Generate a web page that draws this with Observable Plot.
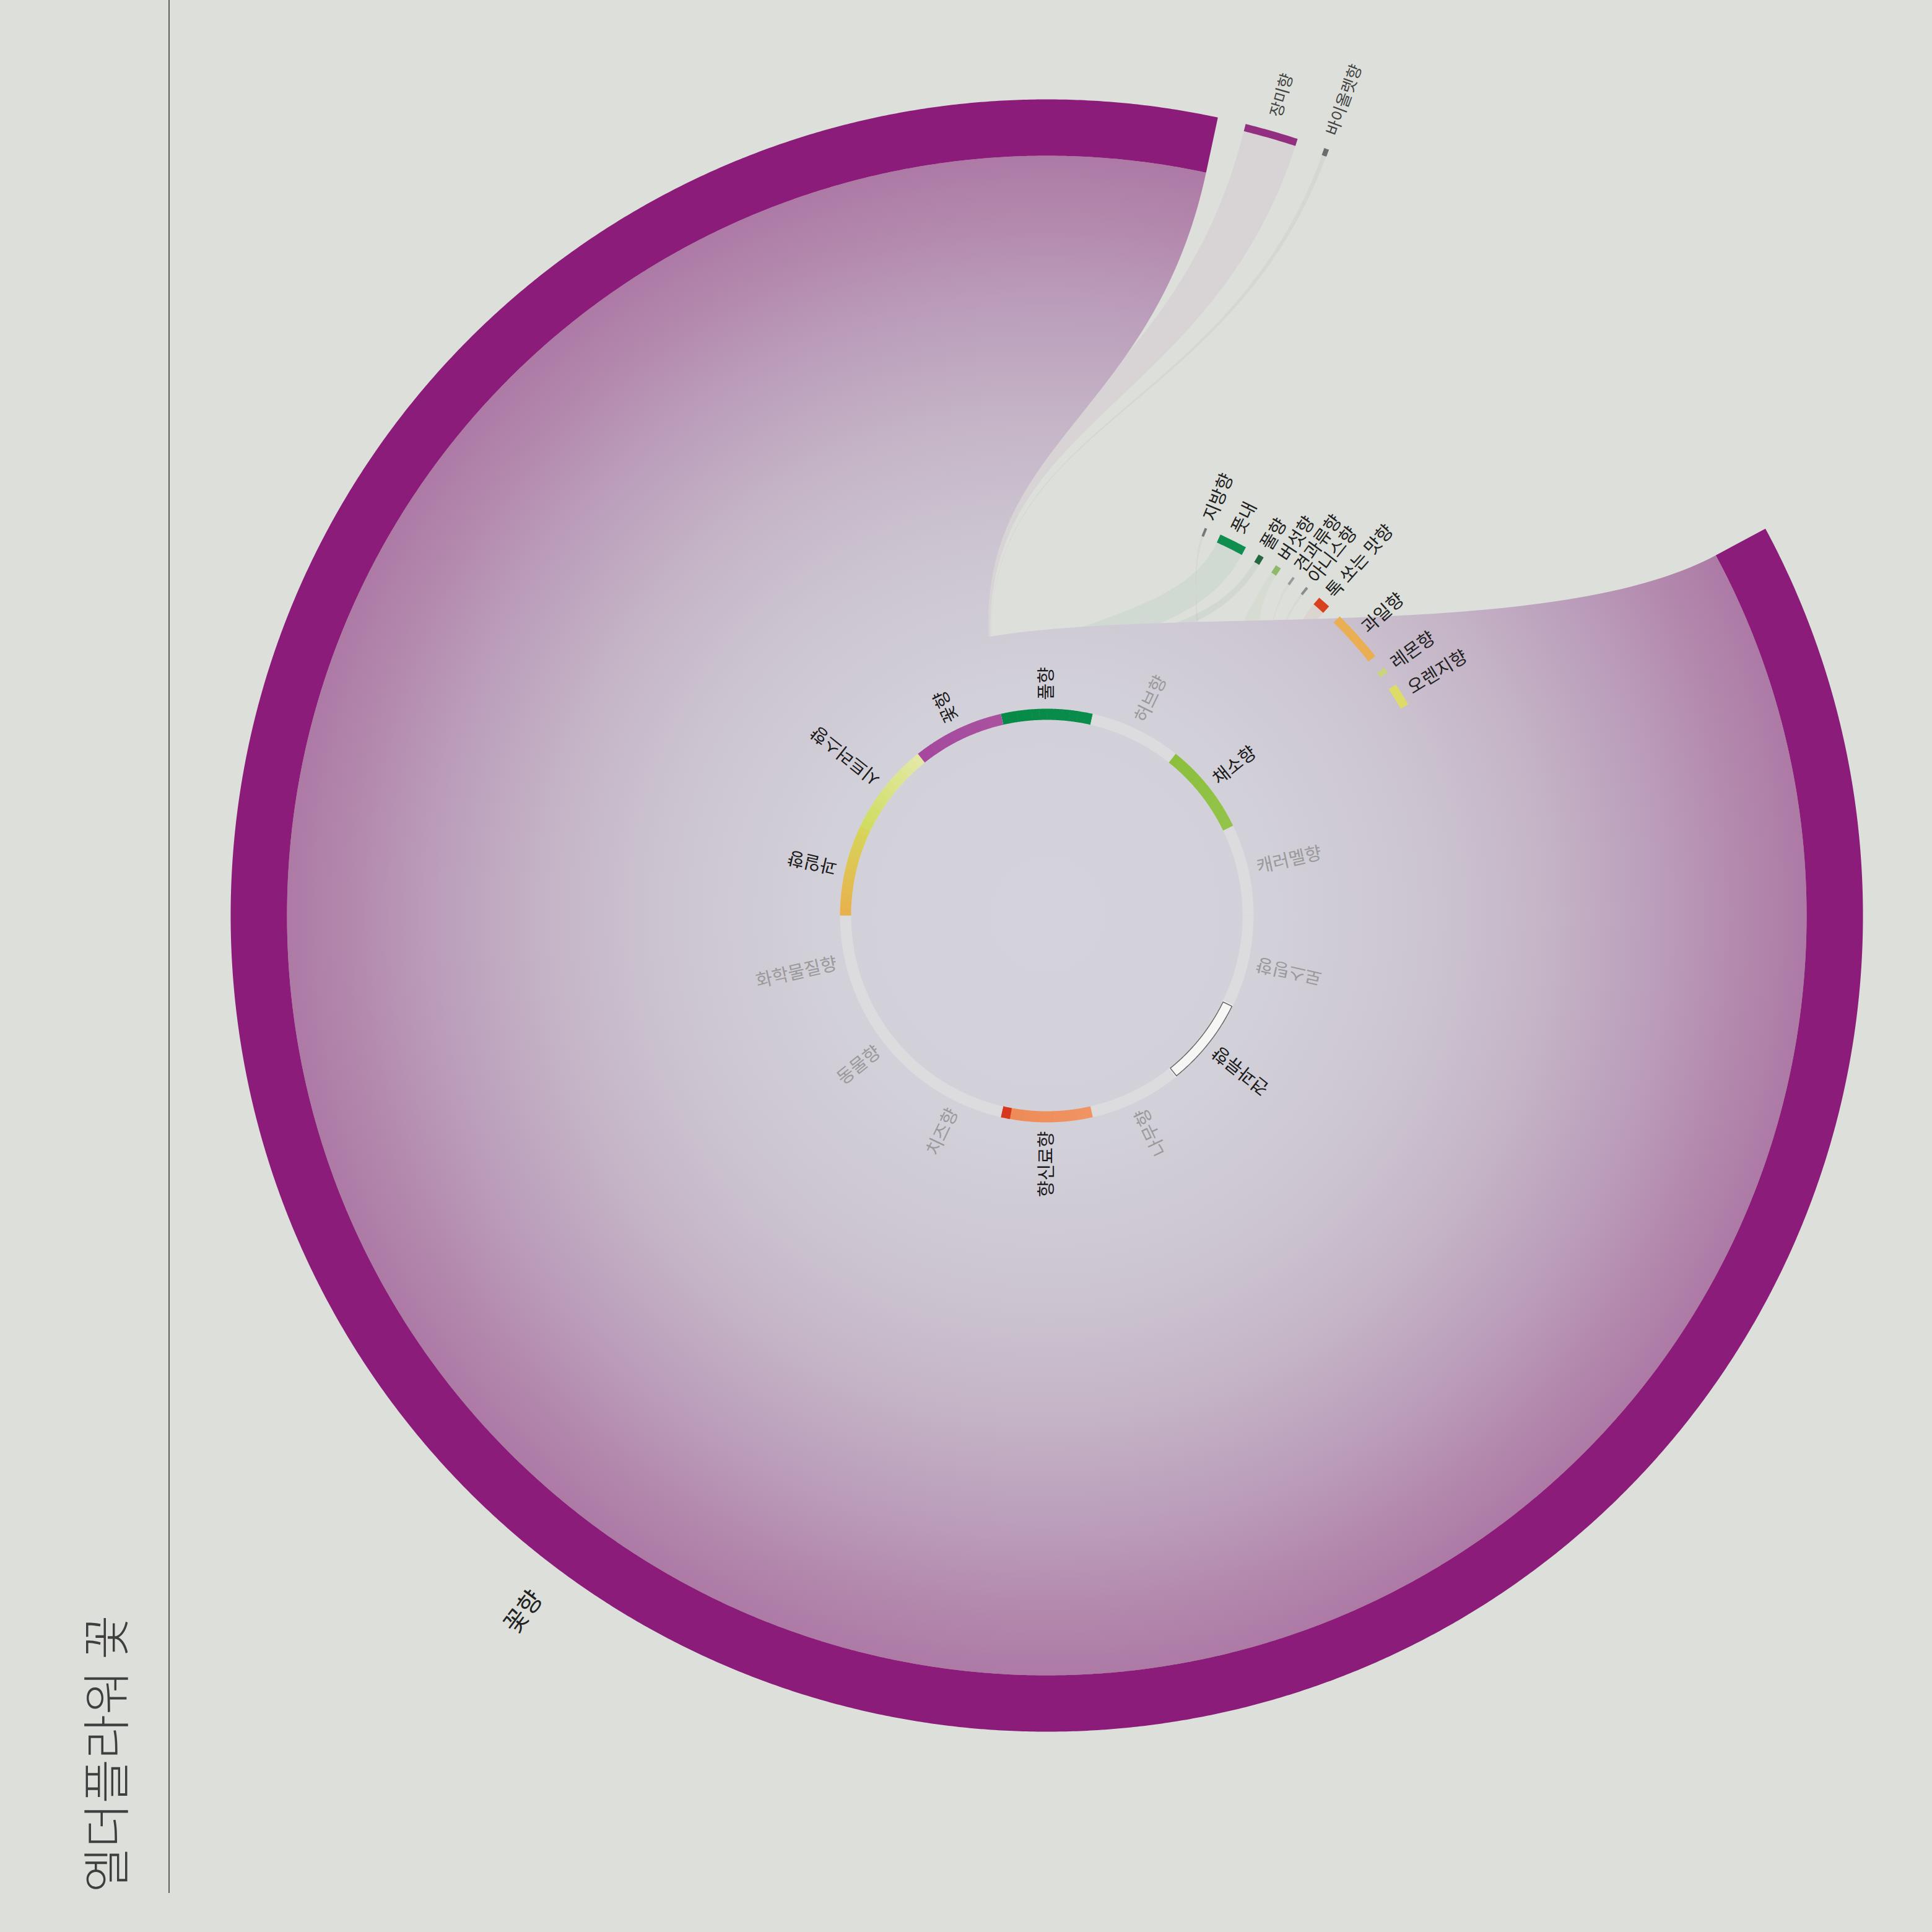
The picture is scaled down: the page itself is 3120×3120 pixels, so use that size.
<!DOCTYPE html>
<html><head><meta charset="utf-8">
<script src="https://cdn.jsdelivr.net/npm/d3@7"></script>
<script src="https://cdn.jsdelivr.net/npm/@observablehq/plot@0.6"></script>
<style>
html,body{margin:0;padding:0;background:#dcdfda;}
#page{position:relative;width:3120px;height:3120px;overflow:hidden;background:#dcdfda;font-family:"Noto Sans CJK KR","Noto Sans",sans-serif;}
#chart{position:absolute;left:0;top:0;}
#rule{position:absolute;left:272px;top:0;width:2px;height:3057px;background:#5e5e5e;}
#title{position:absolute;left:124px;top:3056px;transform-origin:0 0;transform:rotate(-90deg);font-size:78px;line-height:86px;color:#3e3e3e;font-weight:300;white-space:nowrap;}
</style></head><body>
<div id="page"><div id="chart"></div><div id="rule"></div><div id="title"></div></div>
<script>
// ---------------- DATA ----------------
const titleText = "엘더플라워 꽃";
const categories = ["풀향","허브향","채소향","캐러멜향","로스팅향","견과류향","나무향","향신료향","치즈향","동물향","화학물질향","과일향","시트러스향","꽃향"];
const categoryColorStart = ["#068a47","#dcdcde","#8bbf3c","#dcdcde","#dcdcde","#f6f6f4","#dcdcde","#ef9462","#dcdcde","#dcdcde","#dcdcde","#e8b04c","#cfdc5e","#a5489e"];
const categoryColorEnd   = ["#0a8d4c","#dcdcde","#93c44a","#dcdcde","#dcdcde","#f6f6f4","#dcdcde","#ee8a56","#dcdcde","#dcdcde","#dcdcde","#d6d65a","#e4e8a8","#a9519f"];
const categoryAccent     = [null,null,null,null,null,null,null,"#d6381d",null,null,null,null,null,null];
const descriptors = ["꽃향","장미향","바이올렛향","지방향","풋내","풀향","버섯향","견과류향","아니스향","톡 쏘는 맛향","과일향","레몬향","오렌지향"];
const descriptorValues = [310.4, 3.8, 0.3, 0.3, 3.9, 0.8, 0.8, 0.3, 0.3, 1.8, 7.3, 0.8, 3.2];
const descriptorParents = ["꽃향","꽃향","꽃향","견과류향","풀향","풀향","채소향","견과류향","향신료향","향신료향","과일향","시트러스향","시트러스향"];
const descriptorColors = ["#8b1c79","#922f80","#6c6c6c","#777777","#0f8f4f","#23683f","#8fb86b","#9a9a9a","#8a8a8a","#d8401f","#eaaf52","#c9d57c","#dcdc66"];

// ---------------- LAYOUT ----------------
document.getElementById("title").textContent = titleText;
const W = 3120, H = 3120, CX = 1690, CY = 1478;
const ringR0 = 316, ringR1 = 334, innerLabelR = 348;
const bandR0 = 1227, bandR1 = 1318;
const rimR0 = 1306, rimR1 = 1318;
const barR0 = 662, barR1 = 676;
const startAngle = 61.7;
const grayRing = "#dcdcde";

const D2R = Math.PI / 180;
const pt = (a, r) => ({x: r * Math.sin(a * D2R), y: -r * Math.cos(a * D2R)});
function arcPts(a0, a1, r) {
  const n = Math.max(2, Math.ceil(Math.abs(a1 - a0) / 0.25) + 1);
  return d3.range(n).map(i => pt(a0 + (a1 - a0) * i / (n - 1), r));
}
const annulus = (a0, a1, r0, r1) => arcPts(a0, a1, r1).concat(arcPts(a1, a0, r0));
function bez(p0, p1, p2, p3, n = 120) {
  return d3.range(n + 1).map(i => {
    const t = i / n, u = 1 - t;
    return {x: u*u*u*p0.x + 3*u*u*t*p1.x + 3*u*t*t*p2.x + t*t*t*p3.x,
            y: u*u*u*p0.y + 3*u*u*t*p1.y + 3*u*t*t*p2.y + t*t*t*p3.y};
  });
}
function ribbon(s0, s1, rs, t0, t1, rt) {
  const k = (rt - rs) * 0.5;
  return [...arcPts(s0, s1, rs),
          ...bez(pt(s1, rs), pt(s1, rs + k), pt(t1, rt - k), pt(t1, rt)),
          ...arcPts(t1, t0, rt),
          ...bez(pt(t0, rt), pt(t0, rt - k), pt(s0, rs + k), pt(s0, rs))];
}
const tag = (pts, id, props) => pts.map(p => ({...p, id, ...props}));

// inner categories
const catSpan = 360 / categories.length;
const cats = categories.map((name, i) => ({
  name, i, a0: i * catSpan - catSpan / 2, a1: i * catSpan + catSpan / 2, mid: i * catSpan,
  active: descriptorParents.includes(name)
}));

// outer descriptors
const total = d3.sum(descriptorValues);
const pad = (360 - total) / descriptors.length;
let acc = startAngle;
const outer = descriptors.map((name, i) => {
  const a0 = acc, a1 = acc + descriptorValues[i];
  acc = a1 + pad;
  const parent = descriptorParents[i];
  const tier = parent === name && parent === "꽃향" ? "band" : (parent === "꽃향" ? "rim" : "bar");
  const r0 = tier === "band" ? bandR0 : tier === "rim" ? rimR0 : barR0;
  const r1 = tier === "band" ? bandR1 : tier === "rim" ? rimR1 : barR1;
  return {name, i, a0, a1, mid: (a0 + a1) / 2, parent, tier, r0, r1, color: descriptorColors[i], value: descriptorValues[i]};
});

// links (source sub-allocation within each category)
const links = [];
cats.forEach(c => {
  const kids = outer.filter(d => d.parent === c.name);
  const sum = d3.sum(kids, d => d.value);
  let s = c.a0;
  kids.forEach(d => {
    const s1 = s + (c.a1 - c.a0) * d.value / sum;
    links.push({src: c, dst: d, s0: s, s1});
    s = s1;
  });
});
const mainLink = links.find(l => l.dst.tier === "band");
const mainPts = tag(ribbon(mainLink.s0, mainLink.s1, ringR1 - 2, mainLink.dst.a0, mainLink.dst.a1, mainLink.dst.r0), "main", {});
const minorPts = links.filter(l => l !== mainLink).flatMap((l, j) =>
  tag(ribbon(l.s0, l.s1, ringR1 - 2, l.dst.a0, l.dst.a1, l.dst.r0), "lk" + j, {color: l.dst.color}));

// inner ring
const ringPolys = [];
cats.forEach(c => {
  ringPolys.push(...tag(annulus(c.a0, c.a1, ringR0, ringR1), "rg" + c.i, {color: grayRing}));
  if (!c.active) return;
  const interp = d3.interpolateRgb(categoryColorStart[c.i], categoryColorEnd[c.i]);
  const n = 12;
  for (let j = 0; j < n; j++) {
    const b0 = c.a0 + (c.a1 - c.a0) * j / n;
    const b1 = Math.min(c.a1, c.a0 + (c.a1 - c.a0) * (j + 1) / n + 0.08);
    ringPolys.push(...tag(annulus(b0, b1, ringR0, ringR1), `rc${c.i}_${j}`, {color: interp((j + 0.5) / n)}));
  }
  if (categoryAccent[c.i]) {
    ringPolys.push(...tag(annulus(c.a1 - (c.a1 - c.a0) * 0.1, c.a1, ringR0, ringR1), "ra" + c.i, {color: categoryAccent[c.i]}));
  }
});
const outlinedCats = cats.filter(c => c.active && categoryColorStart[c.i] === "#f6f6f4");
const outlinePts = outlinedCats.flatMap(c => tag([...annulus(c.a0 + 0.4, c.a1 - 0.4, ringR0 + 1, ringR1 - 1), pt(c.a0 + 0.4, ringR1 - 1)], "ol" + c.i, {}));

// outer arcs
const outerPolys = outer.flatMap(d => {
  const w = Math.max(d.a1 - d.a0, 0.35);
  return tag(annulus(d.mid - w / 2, d.mid + w / 2, d.r0, d.r1), "oa" + d.i, {color: d.color});
});

// labels
const place = (a, r) => {
  const flip = a > 90 && a < 270;
  return {...pt(a, r), rotate: flip ? a + 90 : a - 90, flip};
};
const innerLabels = cats.map(c => ({...place(c.mid, innerLabelR), text: c.name, color: c.active ? "#1b1b1b" : "#9a9a9a"}));
const outerLabels = outer.map(d => {
  const off = d.tier === "band" ? 52 : d.tier === "rim" ? 24 : 14;
  return {...place(d.mid, d.r1 + off), text: d.name, tier: d.tier, color: d.tier === "rim" ? "#444" : "#222"};
});

const FONT = "Noto Sans CJK KR";
const gradStops = [[0, "#d4d3db"], [0.3, "#d2d0d9"], [0.5, "#ccc5d1"], [0.65, "#c5b5c7"], [0.8, "#bb9ebb"], [0.92, "#b388ad"], [1, "#ad7aa6"]];

const textMark = (data, opts) => Plot.text(data, {x: "x", y: "y", text: "text", rotate: "rotate", fill: "color",
  lineAnchor: "middle", fontFamily: FONT, ...opts});

const chart = Plot.plot({
  width: W, height: H, margin: 0,
  x: {domain: [-CX, W - CX], axis: null},
  y: {domain: [-CY, H - CY], reverse: true, axis: null},
  color: {type: "identity"},
  style: {background: "transparent", overflow: "visible"},
  marks: [
    () => {
      const defs = d3.create("svg:defs");
      const g = defs.append("radialGradient").attr("id", "ribbonGrad").attr("cx", "50%").attr("cy", "50%").attr("r", "50%");
      gradStops.forEach(([o, c]) => g.append("stop").attr("offset", o).attr("stop-color", c));
      return defs.node();
    },
    Plot.line(minorPts, {x: "x", y: "y", z: "id", fill: "color", fillOpacity: 0.06, stroke: "none", curve: "linear"}),
    Plot.line(mainPts, {x: "x", y: "y", fill: "url(#ribbonGrad)", stroke: "none", curve: "linear"}),
    Plot.line(ringPolys, {x: "x", y: "y", z: "id", fill: "color", stroke: "none", curve: "linear"}),
    Plot.line(outlinePts, {x: "x", y: "y", z: "id", fill: "none", stroke: "#6a6a6a", strokeWidth: 1.6, curve: "linear"}),
    Plot.line(outerPolys, {x: "x", y: "y", z: "id", fill: "color", stroke: "none", curve: "linear"}),
    textMark(innerLabels.filter(d => !d.flip), {textAnchor: "start", fontSize: 29}),
    textMark(innerLabels.filter(d => d.flip), {textAnchor: "end", fontSize: 29}),
    textMark(outerLabels.filter(d => !d.flip && d.tier === "bar"), {textAnchor: "start", fontSize: 29}),
    textMark(outerLabels.filter(d => !d.flip && d.tier === "rim"), {textAnchor: "start", fontSize: 26}),
    textMark(outerLabels.filter(d => d.flip), {textAnchor: "end", fontSize: 40})
  ]
});
document.getElementById("chart").appendChild(chart);
</script>
</body></html>
